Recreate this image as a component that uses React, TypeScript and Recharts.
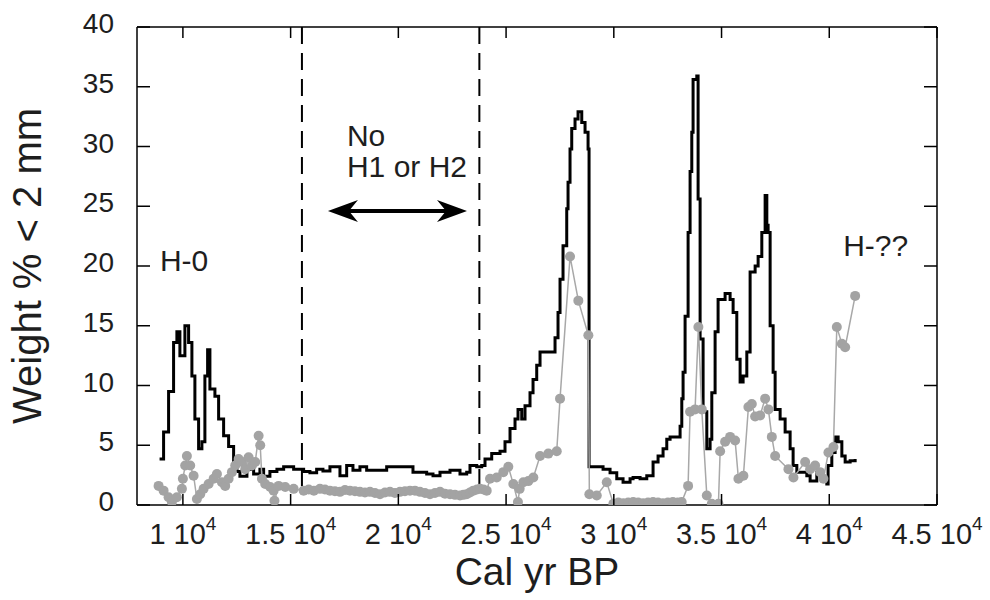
import React from 'react';
import { LineChart, Line, XAxis, YAxis, ReferenceLine, ReferenceDot } from 'recharts';

const FONT = '"Liberation Sans", Arial, Helvetica, sans-serif';
const TEXT = '#1e1e1e';

// Black curve (stepped), Cal yr BP vs weight %
const blackX = [
  8918, 9104, 9336, 9568, 9721, 9861, 10093, 10265, 10418, 10557,
  10729, 10882, 11021, 11147, 11254, 11486, 11658, 11890, 12122, 12354,
  12507, 12647, 12972, 13283, 13575, 13747, 14039, 14364, 14676, 15140,
  15604, 15896, 16208, 16500, 16825, 17290, 17601, 17893, 18218, 18529,
  18994, 19458, 20387, 20679, 21315, 21608, 21933, 22397, 22861, 23172,
  23325, 23637, 23869, 24022, 24333, 24719, 24950, 25183, 25415, 25554,
  25726, 25879, 26111, 26251, 26422, 26576, 27179, 27272, 27411, 27504,
  27643, 27815, 27876, 27968, 28047, 28200, 28340, 28512, 28665, 28805,
  28851, 29209, 29501, 29826, 30137, 30429, 30754, 30894, 31219, 31530,
  31822, 32054, 32286, 32458, 32612, 32923, 33076, 33155, 33215, 33308,
  33448, 33540, 33619, 33679, 33851, 33912, 34005, 34144, 34316, 34469,
  34548, 34701, 34840, 35165, 35397, 35537, 35708, 35862, 36001, 36173,
  36326, 36559, 36698, 36869, 37023, 37102, 37162, 37255, 37394, 37487,
  37719, 37951, 38183, 38322, 38494, 38958, 39111, 39422, 39654, 39886,
  39946, 40118, 40271, 40411, 40584, 40737, 40969, 41201,
];
const blackY = [
  3.85, 6.1, 9.5, 13.6, 14.5, 12.5, 15, 13.6, 10.8, 7.2,
  4.7, 5.3, 10.8, 13, 9.7, 9.1, 7.2, 5.8, 4.9, 3.6,
  2.8, 2.4, 3.0, 2.6, 3.0, 2.4, 2.8, 3.0, 3.2, 3.0,
  2.8, 2.7, 3.0, 2.85, 3.2, 2.45, 3.3, 2.9, 3.2, 2.9,
  2.9, 3.2, 3.2, 2.75, 2.6, 2.45, 2.75, 2.9, 2.6, 2.75,
  3.3, 3.2, 3.3, 3.85, 4.3, 4.5, 5.3, 6.4, 7.2, 8.0,
  7.2, 8.3, 9.4, 10.5, 11.7, 12.8, 12.8, 14.0, 16.1, 18.9,
  21.7, 24.8, 27.0, 29.8, 31.5, 32.3, 32.9, 32.0, 31.2, 29.8,
  3.2, 3.2, 3.0, 2.7, 2.2, 1.9, 2.2, 2.3, 2.2, 2.45,
  3.6, 4.1, 4.7, 5.5, 5.7, 5.7, 6.6, 8.9, 11.1, 15.8,
  22.8, 27.9, 31.2, 35.6, 35.9, 25.6, 13.9, 7.8, 4.7, 5.5,
  9.4, 14.5, 17.2, 17.7, 17.2, 16.1, 12.2, 10.3, 10.8, 12.8,
  19.5, 20.0, 20.8, 22.8, 25.9, 23.4, 22.8, 15.0, 11.1, 8.0,
  7.2, 6.1, 4.7, 3.3, 2.75, 2.45, 2.0, 2.75, 2.3, 1.75,
  3.3, 4.4, 5.7, 5.3, 4.1, 3.6, 3.7, 3.85,
];

// Grey curve with dots: [Cal yr BP, weight %]
const grayEarly: [number, number][] = [
  [8872, 1.6], [9104, 1.2], [9336, 0.65], [9489, 0.25], [9721, 0.65],
  [9954, 1.35], [10000, 2.2], [10107, 3.3], [10186, 4.1], [10339, 3.3],
  [10497, 2.45], [10650, 0.5], [10803, 0.9], [10961, 1.35], [11193, 1.75],
  [11425, 2.2], [11579, 2.6], [11811, 1.9], [11964, 1.6], [12122, 2.2],
  [12275, 2.75], [12428, 3.3], [12586, 3.85], [12739, 3.6], [12893, 3.0],
  [13050, 4.0], [13204, 3.3], [13357, 3.6], [13515, 5.8], [13589, 5.0],
  [13668, 2.2], [13821, 1.75], [14053, 1.5], [14211, 1.2], [14250, 0.35],
  [14443, 1.6], [14750, 1.5], [15140, 1.35],
];
const grayPlateau: [number, number][] = [
  [15604, 1.2], [15840, 1.3], [16080, 1.2], [16361, 1.35], [16593, 1.3],
  [16825, 1.2], [17057, 1.15], [17290, 1.1], [17522, 1.25], [17754, 1.2],
  [17986, 1.15], [18218, 1.1], [18450, 1.05], [18683, 1.1], [18915, 1.0],
  [19147, 0.9], [19379, 1.05], [19611, 1.1], [19843, 1.0], [20075, 1.1],
  [20307, 1.15], [20540, 1.2], [20772, 1.2], [21004, 1.1], [21236, 1.0],
  [21468, 0.9], [21700, 1.0], [21933, 1.1], [22165, 0.95], [22397, 0.9],
  [22629, 0.85], [22861, 0.8], [23020, 0.85], [23172, 0.9], [23325, 1.05],
  [23479, 1.2], [23650, 1.3], [23790, 1.35], [23950, 1.3], [24101, 1.2],
];
const grayMiddle: [number, number][] = [
  [24254, 2.2], [24565, 2.3], [24872, 2.75], [25104, 3.2], [25336, 1.75],
  [25550, 0.25], [25631, 1.35], [25800, 1.9], [26033, 2.0], [26265, 2.3],
  [26576, 4.1], [26961, 4.3], [27351, 4.5], [27504, 8.9], [27968, 20.8],
  [28354, 17.1], [28819, 14.2], [28865, 0.9], [29209, 0.8], [29673, 1.9],
];
const grayZero: [number, number][] = [
  [29979, 0.1], [30210, 0.2], [30440, 0.15], [30670, 0.2], [30900, 0.25],
  [31130, 0.2], [31360, 0.15], [31590, 0.2], [31820, 0.25], [32050, 0.2],
  [32280, 0.15], [32510, 0.2], [32740, 0.25], [32970, 0.2], [33150, 0.25],
];
const grayLate: [number, number][] = [
  [33448, 1.6], [33540, 7.8], [33772, 8.0], [33926, 14.9], [34083, 8.0],
  [34316, 0.8], [34548, 0.1], [34856, 0.1], [34935, 4.5], [35165, 5.3],
  [35397, 5.7], [35630, 5.4], [35783, 2.2], [36015, 2.45], [36247, 8.2],
  [36405, 8.45], [36559, 7.4], [36791, 7.5], [37023, 8.9], [37176, 8.0],
  [37334, 5.7], [37487, 4.1], [38105, 3.0], [38337, 2.3], [38880, 3.6],
  [39111, 3.0], [39343, 3.3], [39575, 2.75], [39729, 2.2], [39961, 4.4],
  [40193, 4.85], [40350, 14.9], [40584, 13.5], [40737, 13.2], [41201, 17.5],
];

// Axes
const xDomain = [7870, 45000];
const xTickValues = [10000, 15000, 20000, 25000, 30000, 35000, 40000, 45000];
const xTickMantissas = ['1', '1.5', '2', '2.5', '3', '3.5', '4', '4.5'];
const yTickValues = [0, 5, 10, 15, 20, 25, 30, 35, 40];

// Annotations
const dashedLineXs = [15525, 23760];
const dashedTop = 40;
const dashedBottom = 1.3;
const arrowSpan = { x1: 16732, x2: 23186, y: 24.6 };
const annotations = [
  { x: 8932, y: 19.58, text: 'H-0' },
  { x: 17615, y: 30.07, text: 'No' },
  { x: 17615, y: 27.45, text: 'H1 or H2' },
  { x: 40644, y: 20.84, text: 'H-??' },
];

const blackData = blackX.map((x, i) => ({ x, y: blackY[i] }));
const grayData = [...grayEarly, ...grayPlateau, ...grayMiddle, ...grayZero, ...grayLate].map(
  ([x, y]) => ({ x, y })
);

const TICK = 11;

const BottomTick = (props: any) => {
  const { x, y, payload } = props;
  const idx = xTickValues.indexOf(payload.value);
  return (
    <g>
      <line x1={x} x2={x} y1={y} y2={y - TICK} stroke="#000" strokeWidth={1.5} />
      <text x={x} y={y + 39} textAnchor="middle" fontSize={29} fill={TEXT} fontFamily={FONT}>
        <tspan>{xTickMantissas[idx] + ' 10'}</tspan>
        <tspan dy={-14} fontSize={19}>4</tspan>
      </text>
    </g>
  );
};

const TopTick = (props: any) => {
  const { x, y } = props;
  return <line x1={x} x2={x} y1={y} y2={y + TICK} stroke="#000" strokeWidth={1.5} />;
};

const LeftTick = (props: any) => {
  const { x, y, payload } = props;
  return (
    <g>
      <line x1={x} x2={x + TICK + 2} y1={y} y2={y} stroke="#000" strokeWidth={1.5} />
      <text x={x - 23} y={y + 6} textAnchor="end" fontSize={28} fill={TEXT} fontFamily={FONT}>
        {payload.value}
      </text>
    </g>
  );
};

const RightTick = (props: any) => {
  const { x, y } = props;
  return <line x1={x} x2={x - TICK - 2} y1={y} y2={y} stroke="#000" strokeWidth={1.5} />;
};

const ArrowShape = (props: any) => {
  const { x1, y1, x2 } = props;
  const y = y1;
  const L = 30;
  const H = 11;
  const B = 21;
  return (
    <g>
      <line x1={x1 + 10} x2={x2 - 10} y1={y} y2={y} stroke="#000" strokeWidth={4} />
      <polygon points={`${x1},${y} ${x1 + L},${y - H} ${x1 + B},${y} ${x1 + L},${y + H}`} fill="#000" />
      <polygon points={`${x2},${y} ${x2 - L},${y - H} ${x2 - B},${y} ${x2 - L},${y + H}`} fill="#000" />
    </g>
  );
};

export default function App() {
  return (
    <div style={{ position: 'absolute', left: 0, top: 0, background: '#fff' }}>
      <LineChart
        width={990}
        height={600}
        margin={{ top: 26, right: 52, bottom: 35, left: 77 }}
      >
        <XAxis
          xAxisId="b"
          dataKey="x"
          type="number"
          domain={xDomain}
          ticks={xTickValues}
          interval={0}
          allowDataOverflow
          orientation="bottom"
          height={60}
          tickSize={0}
          tickMargin={0}
          tickLine={false}
          axisLine={{ stroke: '#000', strokeWidth: 1.5 }}
          tick={<BottomTick />}
          label={(p: any) => {
            const vb = p.viewBox;
            return (
              <text
                x={vb.x + vb.width / 2}
                y={vb.y + 80}
                textAnchor="middle"
                fontSize={39}
                fill={TEXT}
                fontFamily={FONT}
              >
                Cal yr BP
              </text>
            );
          }}
        />
        <XAxis
          xAxisId="t"
          dataKey="x"
          type="number"
          domain={xDomain}
          ticks={xTickValues}
          interval={0}
          allowDataOverflow
          orientation="top"
          height={1}
          tickSize={0}
          tickMargin={0}
          tickLine={false}
          axisLine={{ stroke: '#000', strokeWidth: 1.5 }}
          tick={<TopTick />}
        />
        <YAxis
          yAxisId="l"
          type="number"
          domain={[0, 40]}
          ticks={yTickValues}
          interval={0}
          allowDataOverflow
          orientation="left"
          width={60}
          tickSize={0}
          tickMargin={0}
          tickLine={false}
          axisLine={{ stroke: '#000', strokeWidth: 1.5 }}
          tick={<LeftTick />}
          label={(p: any) => {
            const vb = p.viewBox;
            const cx = vb.x - 36;
            const cy = vb.y + vb.height / 2;
            return (
              <text
                x={0}
                y={0}
                transform={`translate(${cx}, ${cy}) rotate(-90)`}
                textAnchor="middle"
                fontSize={40}
                fill={TEXT}
                fontFamily={FONT}
              >
                Weight % &lt; 2 mm
              </text>
            );
          }}
        />
        <YAxis
          yAxisId="r"
          type="number"
          domain={[0, 40]}
          ticks={yTickValues}
          interval={0}
          allowDataOverflow
          orientation="right"
          width={1}
          tickSize={0}
          tickMargin={0}
          tickLine={false}
          axisLine={{ stroke: '#000', strokeWidth: 1.5 }}
          tick={<RightTick />}
        />

        {dashedLineXs.map((dx, i) => (
          <ReferenceLine
            key={'d' + i}
            xAxisId="b"
            yAxisId="l"
            segment={[{ x: dx, y: dashedTop }, { x: dx, y: dashedBottom }]}
            stroke="#000"
            strokeWidth={2}
            strokeDasharray="17 9"
            ifOverflow="visible"
          />
        ))}

        <ReferenceLine
          xAxisId="b"
          yAxisId="l"
          segment={[{ x: arrowSpan.x1, y: arrowSpan.y }, { x: arrowSpan.x2, y: arrowSpan.y }]}
          ifOverflow="visible"
          shape={<ArrowShape />}
        />

        <Line
          xAxisId="b"
          yAxisId="l"
          data={blackData}
          dataKey="y"
          type="stepAfter"
          stroke="#000"
          strokeWidth={3}
          dot={false}
          activeDot={false}
          isAnimationActive={false}
        />
        <Line
          xAxisId="b"
          yAxisId="l"
          data={grayData}
          dataKey="y"
          type="linear"
          stroke="#a8a8a8"
          strokeWidth={1.5}
          dot={{ r: 5, fill: '#a3a3a3', stroke: 'none' }}
          activeDot={false}
          isAnimationActive={false}
        />

        {annotations.map((a, i) => (
          <ReferenceDot
            key={'a' + i}
            xAxisId="b"
            yAxisId="l"
            x={a.x}
            y={a.y}
            r={0}
            ifOverflow="visible"
            shape={(p: any) => (
              <text
                x={p.cx}
                y={p.cy}
                textAnchor="start"
                fontSize={30}
                fill={TEXT}
                fontFamily={FONT}
              >
                {a.text}
              </text>
            )}
          />
        ))}
      </LineChart>
    </div>
  );
}
